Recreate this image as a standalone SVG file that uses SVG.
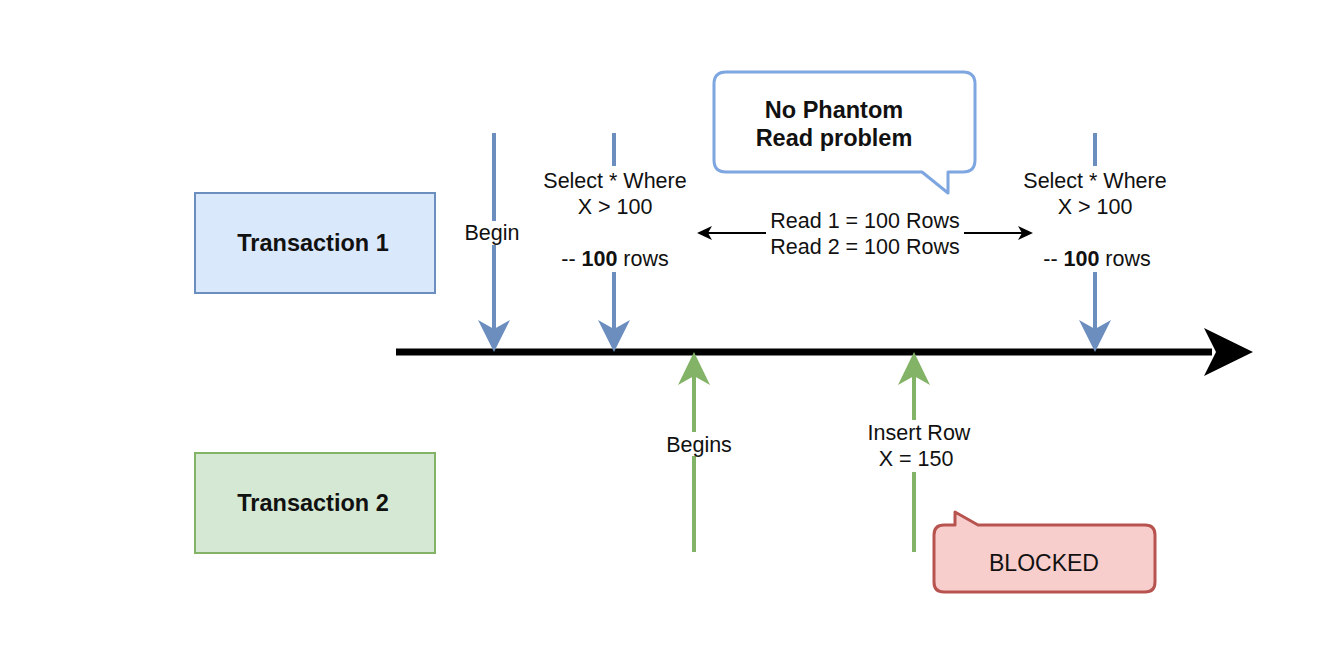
<svg xmlns="http://www.w3.org/2000/svg" width="1334" height="664" viewBox="0 0 1334 664">
<style>
text{font-family:"Liberation Sans",Arial,sans-serif;fill:#111;text-anchor:middle}
.lbl{font-size:21.5px}
.bold{font-weight:bold;font-size:23.5px}
.blue{stroke:#6c8ebf;stroke-width:4;fill:none}
.green{stroke:#82b366;stroke-width:4;fill:none}
.bg{fill:#fff}
</style>
<rect width="1334" height="664" fill="#fff"/>
<g id="connectors">
  <!-- timeline -->
  <line x1="396" y1="352" x2="1212" y2="352" stroke="#000" stroke-width="7"/>
  <polygon points="1253,352 1204,328 1216,352 1204,376" fill="#000"/>
  <!-- blue arrows -->
  <g id="arrow-begin">
    <line class="blue" x1="494" y1="133" x2="494" y2="330"/>
    <polygon points="494,352 478,320 494,329 510,320" fill="#6c8ebf"/>
    <rect class="bg" x="462" y="221" width="60" height="24"/>
    <text class="lbl" x="492" y="240">Begin</text>
  </g>
  <g id="arrow-select1">
    <line class="blue" x1="614" y1="133" x2="614" y2="330"/>
    <polygon points="614,352 598,320 614,329 630,320" fill="#6c8ebf"/>
    <rect class="bg" x="540" y="166" width="150" height="106"/>
    <text class="lbl" x="615" y="188">Select * Where</text>
    <text class="lbl" x="615" y="214">X &gt; 100</text>
    <text class="lbl" x="615" y="266">-- <tspan font-weight="bold">100</tspan> rows</text>
  </g>
  <g id="arrow-select2">
    <line class="blue" x1="1095" y1="133" x2="1095" y2="330"/>
    <polygon points="1095,352 1079,320 1095,329 1111,320" fill="#6c8ebf"/>
    <rect class="bg" x="1020" y="166" width="150" height="106"/>
    <text class="lbl" x="1095" y="188">Select * Where</text>
    <text class="lbl" x="1095" y="214">X &gt; 100</text>
    <text class="lbl" x="1097" y="266">-- <tspan font-weight="bold">100</tspan> rows</text>
  </g>
  <!-- green arrows -->
  <g id="arrow-begins">
    <line class="green" x1="694" y1="552" x2="694" y2="374"/>
    <polygon points="694,352 678,385 694,376 710,385" fill="#82b366"/>
    <rect class="bg" x="664" y="432" width="70" height="24"/>
    <text class="lbl" x="699" y="452">Begins</text>
  </g>
  <g id="arrow-insert">
    <line class="green" x1="914" y1="552" x2="914" y2="374"/>
    <polygon points="914,352 898,385 914,376 930,385" fill="#82b366"/>
    <rect class="bg" x="864" y="420" width="110" height="52"/>
    <text class="lbl" x="919" y="440">Insert Row</text>
    <text class="lbl" x="916" y="466">X = 150</text>
  </g>
  <!-- double arrow -->
  <g id="arrow-reads">
    <line x1="705" y1="233" x2="1025" y2="233" stroke="#000" stroke-width="2"/>
    <polygon points="697,233 712,226 708,233 712,240" fill="#000"/>
    <polygon points="1033,233 1018,226 1022,233 1018,240" fill="#000"/>
    <rect class="bg" x="766" y="208" width="198" height="50"/>
    <text class="lbl" x="865" y="228">Read 1 = 100 Rows</text>
    <text class="lbl" x="865" y="254">Read 2 = 100 Rows</text>
  </g>
</g>
<g id="transaction1">
  <rect x="195" y="193" width="240" height="100" fill="#dae8fc" stroke="#6c8ebf" stroke-width="2"/>
  <text class="bold" x="313" y="251">Transaction 1</text>
</g>
<g id="transaction2">
  <rect x="195" y="453" width="240" height="100" fill="#d5e8d4" stroke="#82b366" stroke-width="2"/>
  <text class="bold" x="313" y="511">Transaction 2</text>
</g>
<g id="callout-phantom">
  <path d="M726,72 H963 Q975,72 975,84 V160 Q975,172 963,172 H948 V193 L922,172 H726 Q714,172 714,160 V84 Q714,72 726,72 Z" fill="#fff" stroke="#7ea6e0" stroke-width="3" stroke-linejoin="round"/>
  <text class="bold" x="834" y="118">No Phantom</text>
  <text class="bold" x="834" y="146">Read problem</text>
</g>
<g id="callout-blocked">
  <path d="M944,525 H955 V512 L978,525 H1145 Q1155,525 1155,535 V582 Q1155,592 1145,592 H944 Q934,592 934,582 V535 Q934,525 944,525 Z" fill="#f8cecc" stroke="#b85450" stroke-width="3" stroke-linejoin="round"/>
  <text x="1044" y="571" style="font-size:23px">BLOCKED</text>
</g>
</svg>
